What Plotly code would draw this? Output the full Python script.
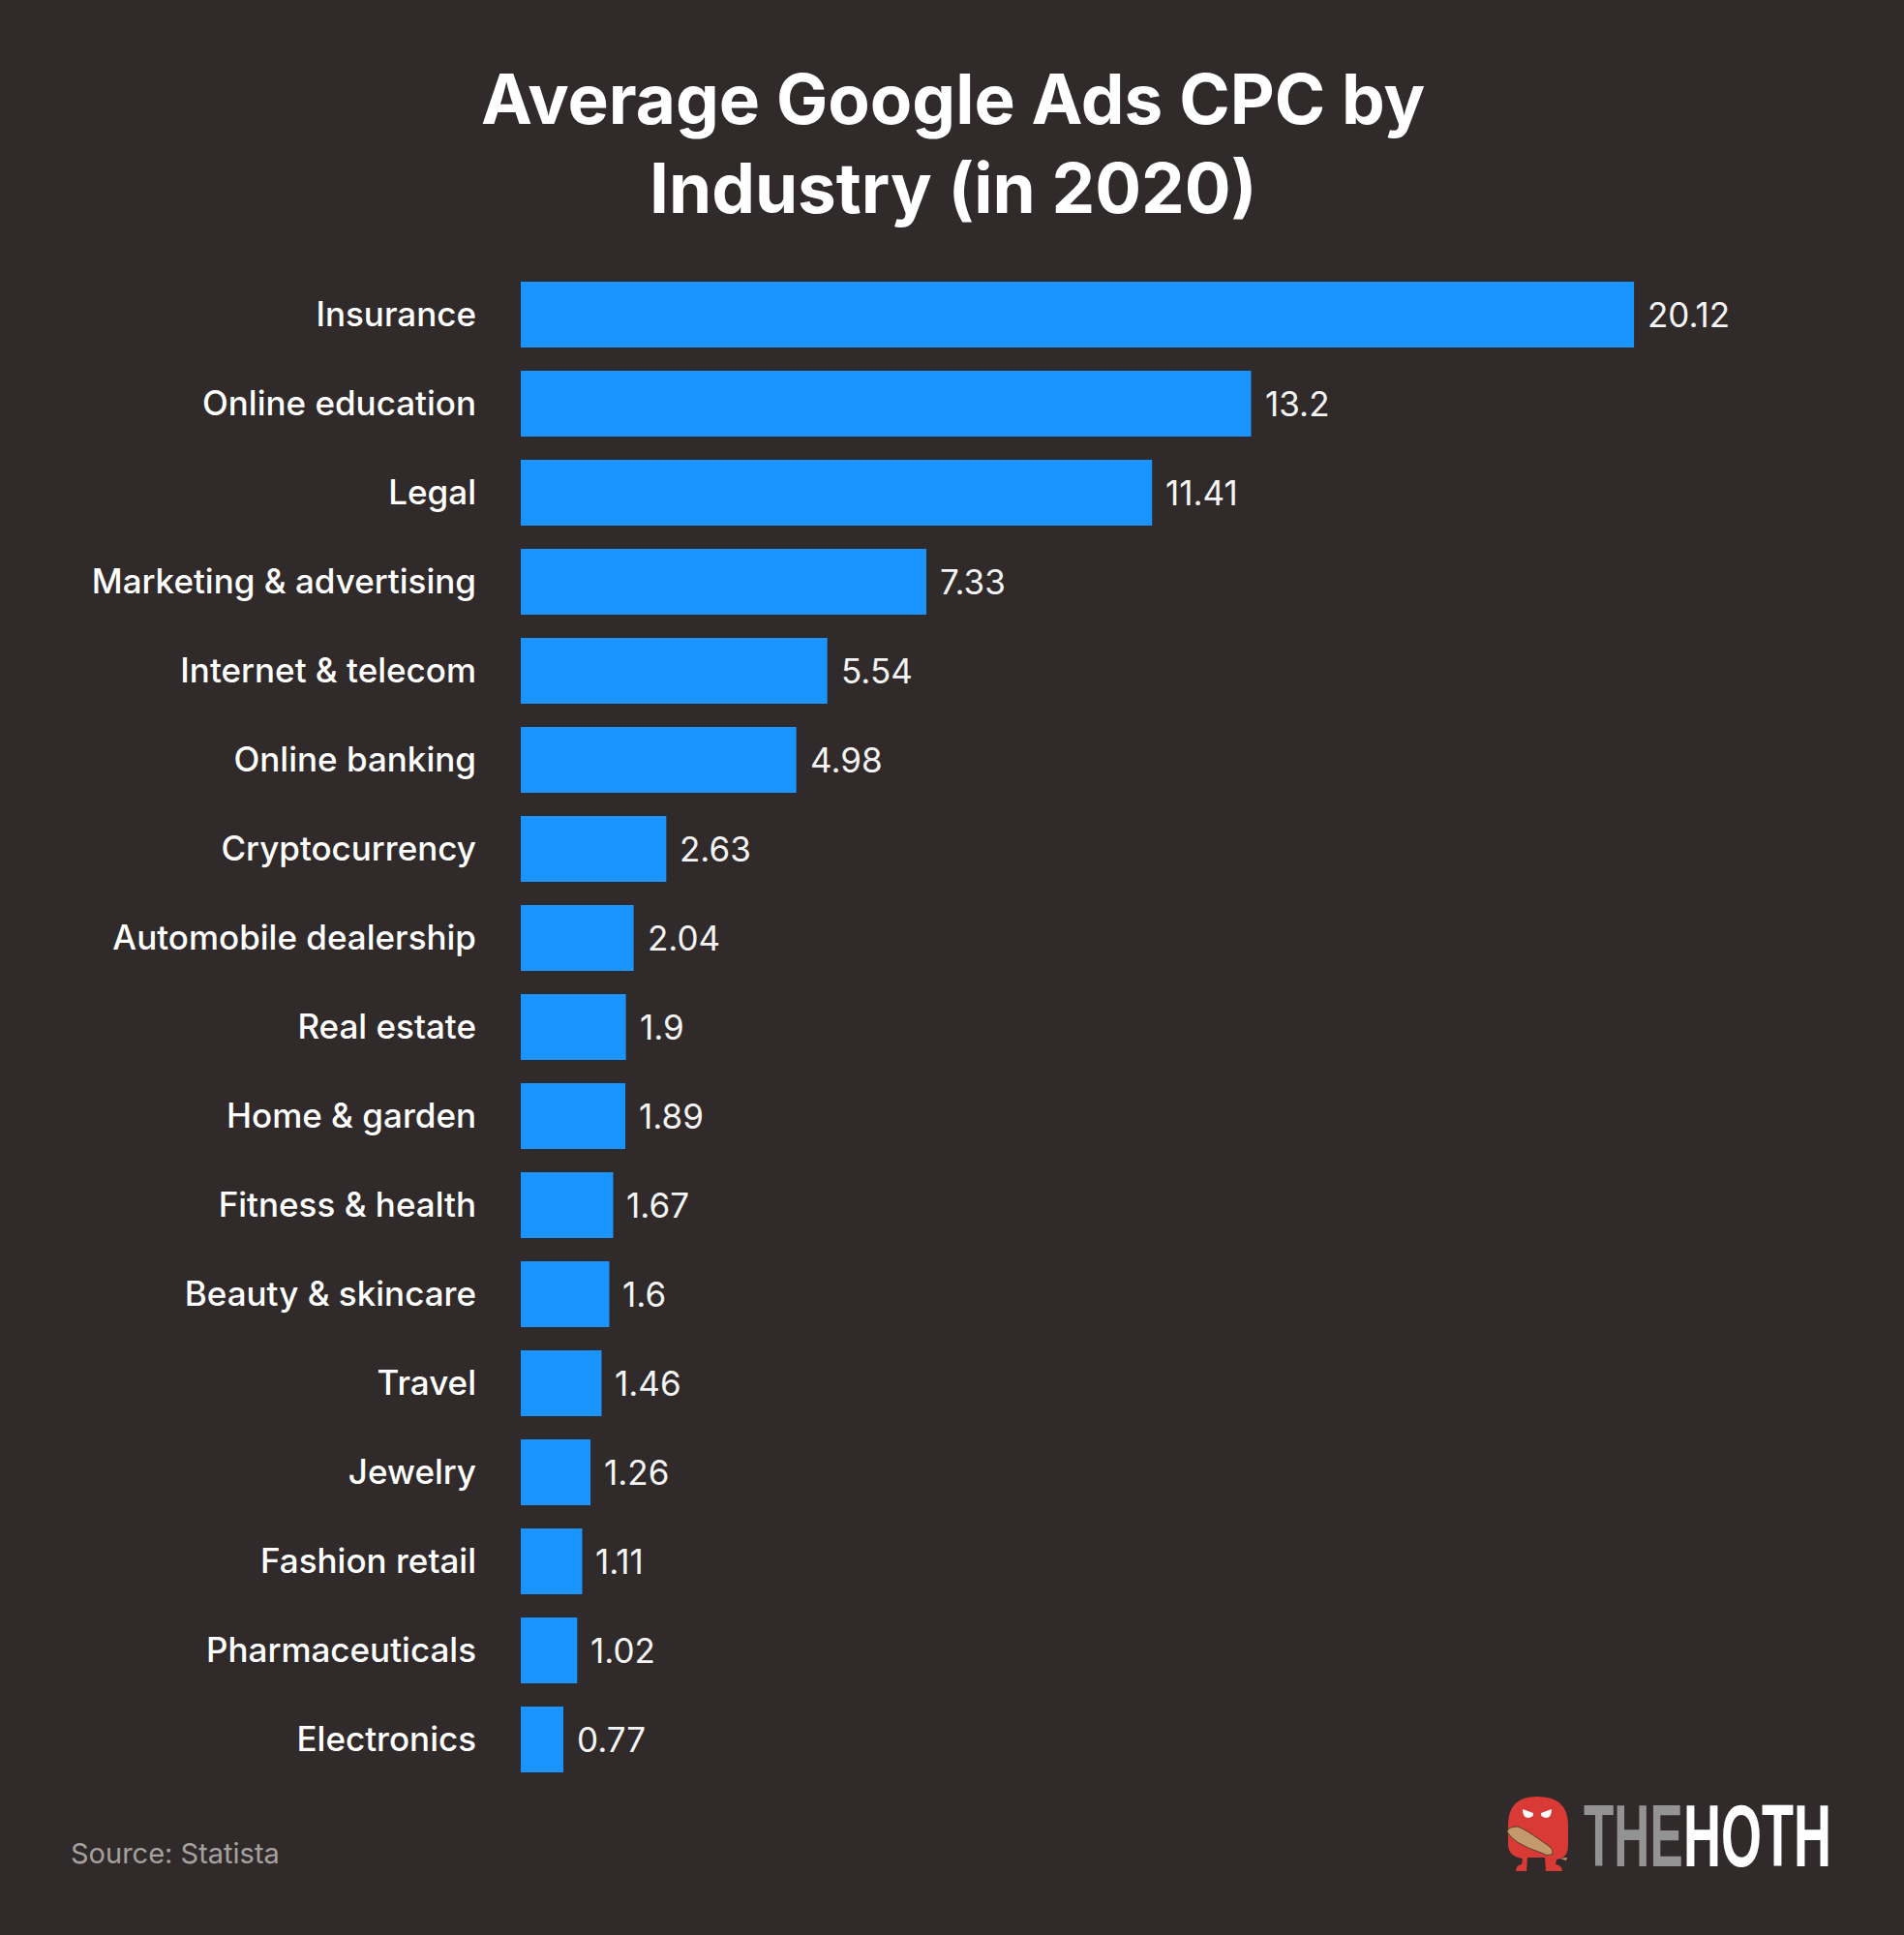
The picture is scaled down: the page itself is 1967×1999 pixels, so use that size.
import plotly.graph_objects as go

# Data
industries = [
    "Insurance", "Online education", "Legal", "Marketing & advertising",
    "Internet & telecom", "Online banking", "Cryptocurrency",
    "Automobile dealership", "Real estate", "Home & garden", "Fitness & health",
    "Beauty & skincare", "Travel", "Jewelry", "Fashion retail",
    "Pharmaceuticals", "Electronics",
]
cpc = [20.12, 13.2, 11.41, 7.33, 5.54, 4.98, 2.63, 2.04, 1.9, 1.89, 1.67, 1.6,
       1.46, 1.26, 1.11, 1.02, 0.77]
cpc_labels = ["20.12", "13.2", "11.41", "7.33", "5.54", "4.98", "2.63", "2.04",
              "1.9", "1.89", "1.67", "1.6", "1.46", "1.26", "1.11", "1.02", "0.77"]

W, H = 1967, 1999
BG = "#302b2a"
BAR = "#1a95ff"
FONT = "Inter"

# plot area in page pixels
left, right, top, bottom = 538, 1967, 279, 1843


def px(x, y):
    return (x - left) / (right - left), (bottom - y) / (bottom - top)


def path(points):
    # points are page pixels, "L"/"Q" style path pieces
    out = []
    for cmd, *vals in points:
        coords = []
        for i in range(0, len(vals), 2):
            xp, yp = px(vals[i], vals[i + 1])
            coords.append(f"{xp:.5f},{yp:.5f}")
        out.append(cmd + " ".join(coords))
    return " ".join(out)


fig = go.Figure(go.Bar(
    x=cpc, y=industries, orientation="h",
    marker=dict(color=BAR, line=dict(width=0)),
    hoverinfo="x+y",
))

annotations = []
for name, value, label in zip(industries, cpc, cpc_labels):
    annotations.append(dict(
        x=value, y=name, xref="x", yref="y", text=label, showarrow=False,
        xanchor="left", xshift=12, font=dict(family=FONT, size=35, color="#f4f4f4", weight=400),
    ))


def page_text(x, y, text, size, color, anchor="center", weight=None, family=FONT):
    xp, yp = px(x, y)
    annotations.append(dict(
        x=xp, y=yp, xref="paper", yref="paper", text=text, showarrow=False,
        xanchor=anchor, yanchor="middle",
        font=dict(family=family, size=size, color=color, weight=weight),
    ))


page_text(984, 102, "Average Google Ads CPC by", 71, "#ffffff", weight=700)
page_text(984, 194, "Industry (in 2020)", 71, "#ffffff", weight=700)
page_text(71, 1914, "Source: Statista", 29, "#a5a19f", anchor="left", weight=400)
page_text(1634, 1897, "THE", 90, "#939393", anchor="left", weight=700, family="Liberation Sans")
page_text(1737, 1897, "HOTH", 90, "#ffffff", anchor="left", weight=700, family="Liberation Sans")

# mascot from the logo
RED = "#d93a35"
TAN = "#c49a6c"
shapes = [
    dict(type="path", xref="paper", yref="paper", fillcolor=RED, line=dict(width=0), path=path([
        ("M", 1558, 1885), ("Q", 1558, 1856, 1588, 1856), ("Q", 1620, 1856, 1620, 1885),
        ("L", 1620, 1906), ("Q", 1620, 1920, 1608, 1921), ("L", 1607, 1926),
        ("Q", 1614, 1927, 1614, 1933), ("L", 1597, 1933), ("L", 1596, 1919), ("L", 1578, 1919),
        ("L", 1577, 1933), ("L", 1566, 1933), ("Q", 1566, 1927, 1572, 1926), ("L", 1573, 1920),
        ("Q", 1558, 1918, 1558, 1905), ("Z",),
    ])),
    dict(type="path", xref="paper", yref="paper", fillcolor=TAN, line=dict(color="#5b3a2a", width=1), path=path([
        ("M", 1557, 1892), ("Q", 1558, 1887, 1568, 1887), ("Q", 1575, 1889, 1600, 1907),
        ("Q", 1606, 1912, 1603, 1916), ("Q", 1598, 1918, 1592, 1914),
        ("Q", 1562, 1904, 1557, 1892), ("Z",),
    ])),
    dict(type="path", xref="paper", yref="paper", fillcolor=TAN, line=dict(width=0), path=path([
        ("M", 1612, 1920), ("L", 1619, 1919), ("L", 1618, 1922), ("Z",),
    ])),
    dict(type="path", xref="paper", yref="paper", fillcolor="#ffffff", line=dict(width=0), path=path([
        ("M", 1573, 1869), ("Q", 1573, 1878, 1579, 1878), ("Q", 1585, 1877, 1584, 1873), ("Z",),
    ])),
    dict(type="path", xref="paper", yref="paper", fillcolor="#ffffff", line=dict(width=0), path=path([
        ("M", 1603, 1869), ("Q", 1603, 1878, 1597, 1878), ("Q", 1591, 1877, 1592, 1873), ("Z",),
    ])),
]

fig.update_layout(
    width=W, height=H,
    paper_bgcolor=BG, plot_bgcolor=BG,
    margin=dict(l=left, r=W - right, t=top, b=H - bottom),
    bargap=0.26,
    showlegend=False,
    xaxis=dict(visible=False, range=[0, 25]),
    yaxis=dict(
        autorange=False, range=[16.5, -0.5], showgrid=False, showline=False,
        zeroline=False, ticks="", ticklabelstandoff=45,
        tickfont=dict(family=FONT, size=35, color="#ffffff", weight=500),
    ),
    annotations=annotations,
    shapes=shapes,
)

# the logo lettering is far more condensed than any installed font
squeeze = """
document.body.style.margin = '0';
var logoScale = {THE: 0.57, HOTH: 0.6};
document.querySelectorAll('text.annotation-text').forEach(function (t) {
  if (logoScale[t.textContent]) {
    t.style.transformBox = 'fill-box';
    t.style.transformOrigin = 'left center';
    t.style.transform = 'scaleX(' + logoScale[t.textContent] + ')';
  }
});
"""
fig.write_html("out.html", post_script=squeeze, config=dict(displayModeBar=False))
